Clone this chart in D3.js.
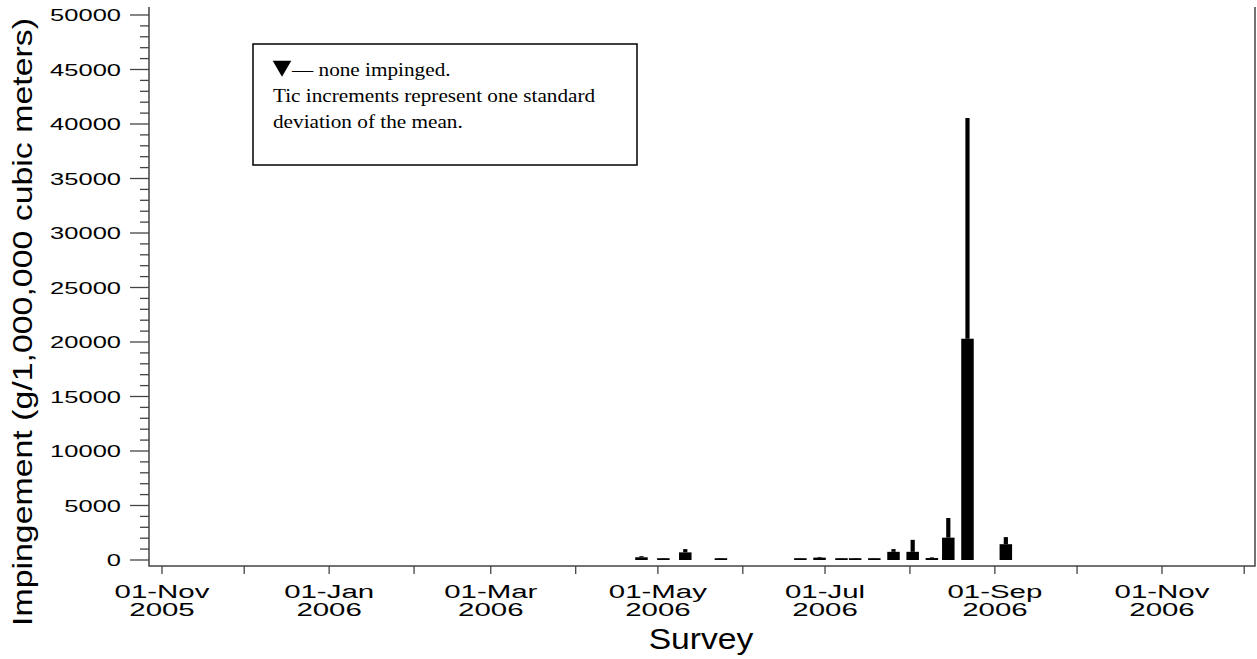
<!DOCTYPE html>
<html>
<head>
<meta charset="utf-8">
<script src="https://cdn.jsdelivr.net/npm/d3@7"></script>
<style>
  body { margin: 0; background: #fff; }
  svg { display: block; }
</style>
</head>
<body>
<div id="chart"></div>
<script>
// survey dates, mean impingement and one standard deviation
const surveyDates = ["2006-04-25", "2006-05-03", "2006-05-11", "2006-05-24", "2006-06-22",
    "2006-06-29", "2006-07-07", "2006-07-12", "2006-07-19", "2006-07-26",
    "2006-08-02", "2006-08-09", "2006-08-15", "2006-08-22", "2006-09-05"];
const meanValues = [250, 100, 700, 100, 90, 220, 110, 100, 100, 750, 750, 180, 2050, 20300, 1450];
const sdValues = [100, 30, 300, 30, 20, 60, 30, 30, 30, 250, 1100, 60, 1800, 20250, 650];
const yTicks = [0, 5000, 10000, 15000, 20000, 25000, 30000, 35000, 40000, 45000, 50000];
const legendLines = ["\u2014 none impinged.", "Tic increments represent one standard", "deviation of the mean."];

const parse = d3.timeParse("%Y-%m-%d");

const svg = d3.select("#chart")
    .append("svg")
    .attr("width", 1257)
    .attr("height", 659);

const x = d3.scaleTime()
    .domain([new Date(2005, 10, 1), new Date(2006, 10, 1)])
    .range([162, 1162]);

const y = d3.scaleLinear()
    .domain([0, 50000])
    .range([560, 15]);

const pLeft = 149, pRight = 1255, pTop = 7, pBottom = 566;

// frame
svg.append("path")
    .attr("d", `M${pLeft},${pTop}V${pBottom}H${pRight}V${pTop}`)
    .attr("fill", "none")
    .attr("stroke", "#444")
    .attr("stroke-width", 1.5);

// y ticks, major and minor
const minor = d3.range(0, 50001, 1000);
svg.selectAll(".ytick")
    .data(minor)
    .enter()
    .append("line")
    .attr("x1", d => d % 5000 === 0 ? pLeft - 19 : pLeft - 9)
    .attr("x2", pLeft)
    .attr("y1", d => y(d))
    .attr("y2", d => y(d))
    .attr("stroke", "#444")
    .attr("stroke-width", 1.3);

svg.selectAll(".ylab")
    .data(yTicks)
    .enter()
    .append("text")
    .attr("transform", d => `translate(121,${y(d) + 6}) scale(1.5,1)`)
    .attr("text-anchor", "end")
    .style("font-family", "Liberation Sans, Arial, sans-serif")
    .style("font-size", "17px")
    .text(d => d);

// x ticks, monthly
const months = d3.timeMonth.range(new Date(2005, 10, 1), new Date(2006, 11, 2));
svg.selectAll(".xtick")
    .data(months)
    .enter()
    .append("line")
    .attr("x1", d => x(d))
    .attr("x2", d => x(d))
    .attr("y1", pBottom)
    .attr("y2", pBottom + 8)
    .attr("stroke", "#444")
    .attr("stroke-width", 1.3);

const labelled = months.filter((d, i) => i % 2 === 0 && d <= new Date(2006, 10, 1));
const fmtDay = d3.timeFormat("%d-%b");
const fmtYear = d3.timeFormat("%Y");

// two-line date labels
const xlab = svg.selectAll(".xlab")
    .data(labelled)
    .enter()
    .append("text")
    .attr("transform", d => `translate(${x(d)},598) scale(1.55,1)`)
    .attr("text-anchor", "middle")
    .style("font-family", "Liberation Sans, Arial, sans-serif")
    .style("font-size", "19px");

xlab.append("tspan")
    .attr("x", 0)
    .attr("y", 0)
    .text(d => fmtDay(d));

xlab.append("tspan")
    .attr("x", 0)
    .attr("y", 18)
    .text(d => fmtYear(d));

// axis titles
svg.append("text")
    .attr("transform", "translate(701,649) scale(1.16,1)")
    .attr("text-anchor", "middle")
    .style("font-family", "Liberation Sans, Arial, sans-serif")
    .style("font-size", "29px")
    .text("Survey");

svg.append("text")
    .attr("transform", "translate(32,322) rotate(-90) scale(1.21,1)")
    .attr("text-anchor", "middle")
    .style("font-family", "Liberation Sans, Arial, sans-serif")
    .style("font-size", "28px")
    .text("Impingement (g/1,000,000 cubic meters)");

// sd lines and mean bars
const barW = 12.5;
svg.selectAll(".sd")
    .data(surveyDates)
    .enter()
    .append("rect")
    .attr("x", d => x(parse(d)) - 2.1)
    .attr("width", 4.2)
    .attr("y", (d, i) => y(meanValues[i] + sdValues[i]))
    .attr("height", (d, i) => y(meanValues[i]) - y(meanValues[i] + sdValues[i]))
    .attr("fill", "#000");

svg.selectAll(".bar")
    .data(surveyDates)
    .enter()
    .append("rect")
    .attr("x", d => x(parse(d)) - barW / 2)
    .attr("width", barW)
    .attr("y", (d, i) => Math.min(y(meanValues[i]), y(0) - 1.8))
    .attr("height", (d, i) => Math.max(y(0) - y(meanValues[i]), 1.8))
    .attr("fill", "#000");

// legend box
svg.append("rect")
    .attr("x", 253)
    .attr("y", 44)
    .attr("width", 384)
    .attr("height", 121)
    .attr("fill", "none")
    .attr("stroke", "#000")
    .attr("stroke-width", 1.5);

// none-impinged marker
svg.append("path")
    .attr("d", d3.symbol().type(d3.symbolTriangle).size(150))
    .attr("transform", "translate(282,66) rotate(180)")
    .attr("fill", "#000");

svg.selectAll(".leg")
    .data(legendLines)
    .enter()
    .append("text")
    .attr("transform", (d, i) => `translate(${i === 0 ? 292 : 273},${76 + i * 26}) scale(1.18,1)`)
    .style("font-family", "Liberation Serif, Times New Roman, serif")
    .style("font-size", "18px")
    .text(d => d);
</script>
</body>
</html>
